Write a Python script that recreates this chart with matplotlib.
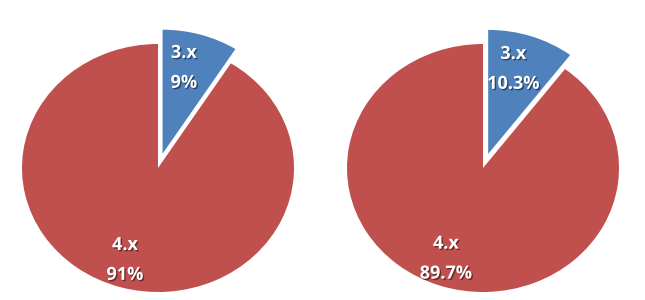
import matplotlib
matplotlib.use('Agg')
import matplotlib.pyplot as plt
import matplotlib.patheffects as pe
import numpy as np

# versions share, two snapshots
versions = ['3.x', '4.x']
share_left = [9, 91]
share_right = [10.3, 89.7]
colors = ['#4F81BD', '#C0504D']

W, H = 645, 300
fig = plt.figure(figsize=(W / 100, H / 100), dpi=100)

# pie is drawn a bit stretched horizontally, like the original
RX, RY = 136, 124
LIM = 1.2
# label distance / angle tweak per wedge
LBL_DIST = [0.71, 0.78]
LBL_ROT = [3.5, -2.0]


def add_pie(cx, cy, values):
    # cx, cy: pie centre in pixels (y from top)
    w, h = 2 * LIM * RX, 2 * LIM * RY
    ax = fig.add_axes([(cx - w / 2) / W, (H - cy - h / 2) / H, w / W, h / H])
    it = iter(range(len(values)))

    def fmt(pct):
        i = next(it)
        return f"{versions[i]}\n{values[i]:g}%"

    wedges, _, autotexts = ax.pie(
        values, colors=colors, startangle=90, counterclock=False,
        explode=[0.12, 0], autopct=fmt, pctdistance=0.74,
        wedgeprops=dict(linewidth=0),
        textprops=dict(color='white', fontsize=13, fontweight='bold',
                       family=['Open Sans', 'DejaVu Sans'], linespacing=1.85,
                       path_effects=[pe.SimplePatchShadow(offset=(1, -1), shadow_rgbFace='black', alpha=0.45),
                                     pe.Normal()]))
    for i, (wd, t) in enumerate(zip(wedges, autotexts)):
        ang = np.deg2rad((wd.theta1 + wd.theta2) / 2 + LBL_ROT[i])
        x0, y0 = wd.center
        t.set_position((x0 + LBL_DIST[i] * np.cos(ang), y0 + LBL_DIST[i] * np.sin(ang)))
    ax.set_aspect('auto')
    ax.set_xlim(-LIM, LIM)
    ax.set_ylim(-LIM, LIM)
    ax.axis('off')
    return ax


add_pie(158, 168, share_left)
add_pie(483, 168, share_right)

fig.savefig('out.png', dpi=100, facecolor='white')
